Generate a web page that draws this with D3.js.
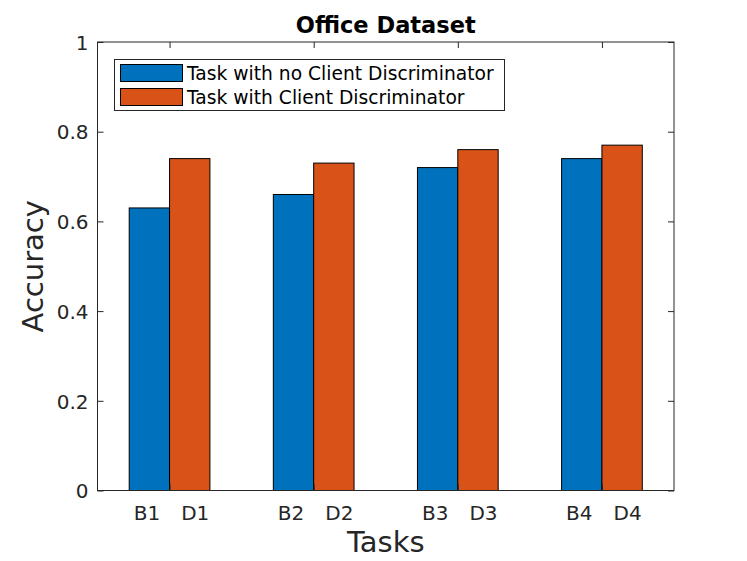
<!DOCTYPE html>
<html>
<head>
<meta charset="utf-8">
<script src="https://cdn.jsdelivr.net/npm/d3@7"></script>
<style>
  body { margin: 0; background: #fff; }
  text { font-family: "DejaVu Sans", sans-serif; }
</style>
</head>
<body>
<script>
const width = 747, height = 561;
const margin = {top: 42, right: 73, bottom: 70.5, left: 97.5};

const groups = [1, 2, 3, 4];
const baseLabels = ["B1", "B2", "B3", "B4"];
const discLabels = ["D1", "D2", "D3", "D4"];
const noDisc = [0.63, 0.66, 0.72, 0.74];
const withDisc = [0.74, 0.73, 0.76, 0.77];
const seriesNames = ["Task with no Client Discriminator", "Task with Client Discriminator"];
const colors = ["#0072BD", "#D95319"];
const yTicks = [0, 0.2, 0.4, 0.6, 0.8, 1];

const svg = d3.select('body').append('svg')
    .attr('width', width)
    .attr('height', height);

const innerW = width - margin.left - margin.right;
const innerH = height - margin.top - margin.bottom;

const x = d3.scaleLinear().domain([0.5, 4.5]).range([0, innerW]);
const y = d3.scaleLinear().domain([0, 1]).range([innerH, 0]);
const barW = x(1.28) - x(1);

const g = svg.append('g')
    .attr('transform', "translate(" + margin.left + "," + margin.top + ")");

// bars
[noDisc, withDisc].forEach((vals, s) => {
    g.selectAll('rect.s' + s)
        .data(vals)
        .enter().append('rect')
        .attr('class', 's' + s)
        .attr('x', (d, i) => s === 0 ? x(groups[i]) - barW : x(groups[i]))
        .attr('y', d => y(d))
        .attr('width', barW)
        .attr('height', d => innerH - y(d))
        .attr('fill', colors[s])
        .attr('stroke', '#000')
        .attr('stroke-width', 1);
});

// axes box
g.append('rect')
    .attr('width', innerW).attr('height', innerH)
    .attr('fill', 'none').attr('stroke', '#262626').attr('stroke-width', 1);

// y axes
const yAxis = d3.axisLeft(y).tickValues(yTicks).tickSizeInner(-6).tickSizeOuter(0)
    .tickPadding(9).tickFormat(d3.format('~g'));
const ya = g.append('g').call(yAxis);
ya.select('.domain').remove();
ya.selectAll('line').attr('stroke', '#262626');
ya.selectAll('text').attr('fill', '#262626').attr('dy', '0.36em').style('font-size', '20px');

const yRight = g.append('g').attr('transform', "translate(" + innerW + ",0)")
    .call(d3.axisRight(y).tickValues(yTicks).tickSizeInner(-6).tickSizeOuter(0).tickFormat(''));
yRight.select('.domain').remove();
yRight.selectAll('line').attr('stroke', '#262626');

// x axes
const xa = g.append('g').attr('transform', "translate(0," + innerH + ")")
    .call(d3.axisBottom(x).tickValues(groups).tickSizeInner(-6).tickSizeOuter(0).tickFormat(''));
xa.select('.domain').remove();
xa.selectAll('line').attr('stroke', '#262626');
xa.selectAll('.tick').each(function(d, i) {
    const t = d3.select(this);
    t.append('text').attr('x', -barW / 2 - 3).attr('y', 29)
        .attr('text-anchor', 'middle').attr('fill', '#262626').style('font-size', '20px')
        .text(baseLabels[i]);
    t.append('text').attr('x', barW / 2 + 5).attr('y', 29)
        .attr('text-anchor', 'middle').attr('fill', '#262626').style('font-size', '20px')
        .text(discLabels[i]);
});

const xTop = g.append('g')
    .call(d3.axisTop(x).tickValues(groups).tickSizeInner(-6).tickSizeOuter(0).tickFormat(''));
xTop.select('.domain').remove();
xTop.selectAll('line').attr('stroke', '#262626');

// title and labels
svg.append('text')
    .attr('x', margin.left + innerW / 2).attr('y', 33)
    .attr('text-anchor', 'middle').style('font-size', '22.5px').style('font-weight', 'bold')
    .attr('fill', '#000').text('Office Dataset');

svg.append('text')
    .attr('x', margin.left + innerW / 2).attr('y', 552)
    .attr('text-anchor', 'middle').style('font-size', '29px')
    .attr('fill', '#262626').text('Tasks');

svg.append('text')
    .attr('transform', "translate(43," + (margin.top + innerH / 2) + ") rotate(-90)")
    .attr('text-anchor', 'middle').style('font-size', '29px')
    .attr('fill', '#262626').text('Accuracy');

// legend
const lg = svg.append('g').attr('transform', "translate(114.5,59.5)");
lg.append('rect').attr('width', 390).attr('height', 51)
    .attr('fill', '#fff').attr('stroke', '#262626').attr('stroke-width', 1);
seriesNames.forEach((name, i) => {
    lg.append('rect')
        .attr('x', 6).attr('y', 5 + i * 24)
        .attr('width', 62).attr('height', 17)
        .attr('fill', colors[i]).attr('stroke', '#000');
    lg.append('text')
        .attr('x', 72.5).attr('y', 20.5 + i * 23.5)
        .style('font-size', '18.7px').attr('fill', '#000')
        .text(name);
});
</script>
</body>
</html>
